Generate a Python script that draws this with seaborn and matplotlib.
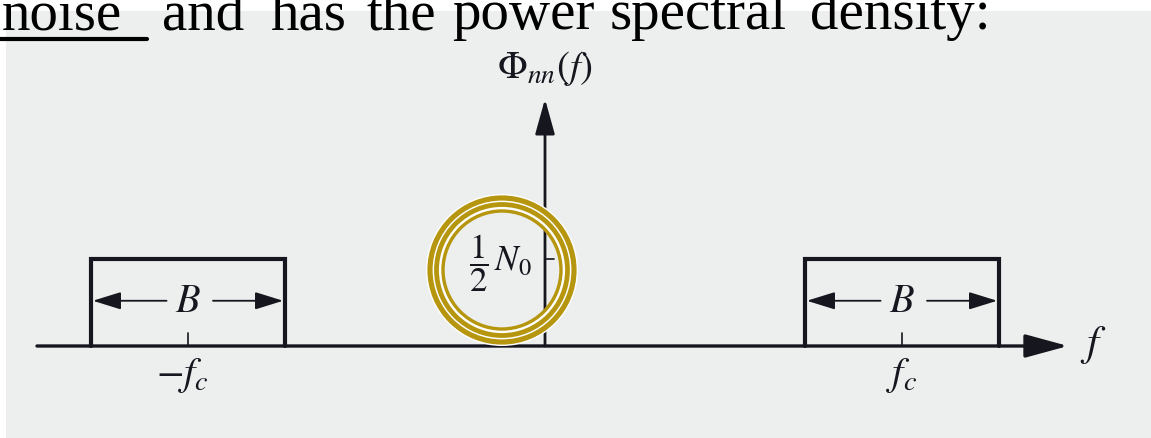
import numpy as np
import pandas as pd
import matplotlib
matplotlib.use("Agg")
import matplotlib.pyplot as plt
from matplotlib.patches import Ellipse, Rectangle
import seaborn as sns

# Band-pass white noise: two flat bands of height N0/2 centred on -fc and +fc
band_centers = [-1.0, 1.0]          # -f_c, +f_c (units of f_c)
bandwidth = 0.545                   # B, relative to f_c
half_N0 = 1.0                       # spectral level N0/2
center_labels = [r"$-f_c$", r"$f_c$"]

INK = "#16161f"
GOLD = "#b5960e"
PANEL = "#ecefee"

sns.set_theme(style="white")
plt.rcParams["mathtext.fontset"] = "stix"
plt.rcParams["font.family"] = ["Liberation Serif", "DejaVu Serif"]

W, H = 1151, 439
fig = plt.figure(figsize=(W / 100, H / 100), dpi=100)
fig.patch.set_facecolor("white")

# page background behind the figure
fig.patches.append(Rectangle((6 / W, 0), 1 - 6 / W, 1 - 12 / H,
                             transform=fig.transFigure, facecolor=PANEL,
                             edgecolor="none", zorder=-5))

ax = fig.add_axes([0, 0, 1, 1])
ax.set_facecolor("none")
ax.set_axis_off()

# data -> pixel: x_px = 545 + f*357, y_px = 347 - psd*87
ax.set_xlim(-545 / 357, (W - 545) / 357)
ax.set_ylim(-(H - 347) / 87, 347 / 87)

# spectrum outline built from the band parameters
rows = []
for k, fc in enumerate(band_centers):
    lo, hi = fc - bandwidth / 2, fc + bandwidth / 2
    for i, (f, p) in enumerate([(lo, 0), (lo, half_N0), (hi, half_N0), (hi, 0)]):
        rows.append({"band": k, "order": i, "f": f, "psd": p})
spec = pd.DataFrame(rows)
sns.lineplot(data=spec, x="f", y="psd", units="band", estimator=None,
             sort=False, color=INK, lw=3.0, ax=ax, legend=False,
             solid_joinstyle="miter", zorder=3)

# frequency axis and spectrum axis with arrowheads
ax.annotate("", xy=(1.465, 0), xytext=(-1.423, 0),
            arrowprops=dict(arrowstyle="-|>,head_length=2.2,head_width=0.6",
                            lw=2.4, color=INK, shrinkA=0, shrinkB=0),
            zorder=3)
ax.annotate("", xy=(0, 2.84), xytext=(0, 0),
            arrowprops=dict(arrowstyle="-|>,head_length=1.8,head_width=0.5",
                            lw=2.0, color=INK, shrinkA=0, shrinkB=0),
            zorder=3)
ax.text(1.535, 0.02, r"$f$", fontsize=31, color=INK, ha="center", va="center")
ax.text(0, 3.2, r"$\Phi_{nn}(f)$", fontsize=28, color=INK,
        ha="center", va="center")

# level tick for N0/2 on the spectrum axis
ax.plot([0, 0.025], [half_N0, half_N0], color=INK, lw=1.2, zorder=3)
ax.text(-0.125, 0.97, r"$\dfrac{1}{2}\,N_0$", fontsize=25, color=INK,
        ha="center", va="center")

# bandwidth arrows, centre ticks and labels
for fc, lab in zip(band_centers, center_labels):
    lo, hi = fc - bandwidth / 2, fc + bandwidth / 2
    yb = 0.52
    ax.annotate("", xy=(lo + 0.006, yb), xytext=(fc - 0.06, yb),
                arrowprops=dict(arrowstyle="-|>,head_length=1.45,head_width=0.45",
                                lw=1.3, color=INK, shrinkA=0, shrinkB=0))
    ax.annotate("", xy=(hi - 0.006, yb), xytext=(fc + 0.07, yb),
                arrowprops=dict(arrowstyle="-|>,head_length=1.45,head_width=0.45",
                                lw=1.3, color=INK, shrinkA=0, shrinkB=0))
    ax.text(fc, yb - 0.01, r"$B$", fontsize=29, color=INK,
            ha="center", va="center")
    ax.plot([fc, fc], [0, 0.15], color=INK, lw=1.2, zorder=3)
    ax.text(fc - (0.015 if fc < 0 else 0), -0.33, lab, fontsize=29, color=INK,
            ha="center", va="center")

# highlight rings around the N0/2 label
cx, cy = (502 - 545) / 357, (347 - 271) / 87
ax.add_patch(Ellipse((cx, cy), 2 * 67 / 357, 2 * 67 / 87, facecolor="none",
                     edgecolor="white", lw=13, zorder=4))
for r, w in [(72.0, 5.2), (65.5, 4.8), (59.0, 3.4)]:
    ax.add_patch(Ellipse((cx, cy), 2 * r / 357, 2 * r / 87, facecolor="none",
                         edgecolor=GOLD, lw=w * 0.72, zorder=5))

# heading line with underlined first word, set word by word across the width
heading = ["noise", "and", "has", "the", "power", "spectral", "density:"]
word_x = [2, 162, 270, 366, 452, 610, 810]
for word, x in zip(heading, word_x):
    fig.text(x / W, 1 - 29 / H, word, fontsize=41, family="Liberation Serif",
             color="black", ha="left", va="baseline")
fig.add_artist(plt.Line2D([0, 147 / W], [1 - 40 / H, 1 - 40 / H],
                          transform=fig.transFigure, color="black", lw=3.0))

fig.savefig("out.png", dpi=100)
